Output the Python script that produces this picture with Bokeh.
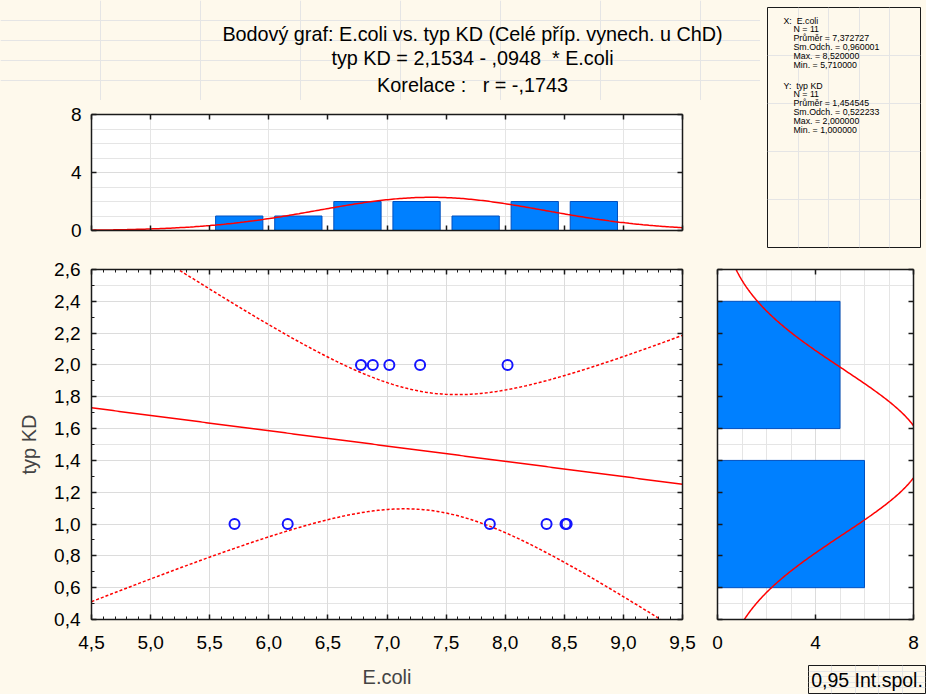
import numpy as np
from bokeh.plotting import figure
from bokeh.models import (FixedTicker, LinearAxis, Label, Range1d, Grid, Plot,
                          CustomJSTickFormatter)
from bokeh.layouts import column, row
from bokeh.embed import file_html
from bokeh.resources import INLINE

NB = "\u00a0"

# ---------------- data ----------------
ECOLI = [5.71, 6.16, 6.78, 6.88, 7.02, 7.28, 7.87, 8.02, 8.35, 8.51, 8.52]
TYP_KD = [1, 1, 2, 2, 2, 2, 1, 2, 1, 1, 1]

X_BIN_CENTERS = [5.75, 6.25, 6.75, 7.25, 7.75, 8.25, 8.75]
X_BIN_COUNTS = [1, 1, 2, 2, 1, 2, 2]
X_BIN_WIDTH = 0.5
Y_BIN_CENTERS = [1.0, 2.0]
Y_BIN_COUNTS = [6, 5]
Y_BIN_WIDTH = 1.0

X_TICKS = [4.5, 5.0, 5.5, 6.0, 6.5, 7.0, 7.5, 8.0, 8.5, 9.0, 9.5]
Y_TICKS = [0.4, 0.6, 0.8, 1.0, 1.2, 1.4, 1.6, 1.8, 2.0, 2.2, 2.4, 2.6]
COUNT_TICKS = [0, 4, 8]

TITLE_LINES = [
    "Bodový graf: E.coli vs. typ KD (Celé příp. vynech. u ChD)",
    "typ KD = 2,1534 - ,0948" + NB + " * E.coli",
    "Korelace :" + NB + NB + " r = -,1743",
]
STATS_X = ["X:" + NB + " E.coli", "N = 11", "Průměr = 7,372727",
           "Sm.Odch. = 0,960001", "Max. = 8,520000", "Min. = 5,710000"]
STATS_Y = ["Y:" + NB + " typ KD", "N = 11", "Průměr = 1,454545",
           "Sm.Odch. = 0,522233", "Max. = 2,000000", "Min. = 1,000000"]
CI_LABEL = "0,95 Int.spol."
X_NAME = "E.coli"
Y_NAME = "typ KD"
T_975_DF9 = 2.2622

# ---------------- styles ----------------
BG = "#FEF9EC"
INK = "#1a1a1a"
FONT = "Liberation Sans"
BAR = "#0080FF"
BAR_EDGE = "#0050C0"
RED = "#FF0000"
GRID = "#DCDCDC"
FA = {"frame_align": False} if "frame_align" in Plot.properties() else {}
BGSTYLE = {"background-color": BG}

x = np.array(ECOLI, float)
y = np.array(TYP_KD, float)
n = len(x)
mx, my = x.mean(), y.mean()
sdx, sdy = x.std(ddof=1), y.std(ddof=1)
sxx = ((x - mx) ** 2).sum()
b = ((x - mx) * (y - my)).sum() / sxx
a = my - b * mx
s = np.sqrt(((y - (a + b * x)) ** 2).sum() / (n - 2))

xs = np.linspace(4.5, 9.5, 300)
yhat = a + b * xs
half = T_975_DF9 * s * np.sqrt(1.0 / n + (xs - mx) ** 2 / sxx)


def npdf(v, m, sd):
    return np.exp(-0.5 * ((v - m) / sd) ** 2) / (sd * np.sqrt(2 * np.pi))


def make_axis(ticker, labels, formatter=None, standoff=12):
    ax = LinearAxis(ticker=ticker)
    ax.axis_line_color = INK
    ax.axis_line_width = 1.5
    ax.major_tick_in = 5
    ax.major_tick_out = 0
    ax.minor_tick_in = 3
    ax.minor_tick_out = 0
    ax.major_tick_line_color = INK
    ax.minor_tick_line_color = INK
    ax.major_tick_line_width = 1.5
    ax.major_label_text_font = FONT
    if labels:
        ax.major_label_text_color = "black"
        ax.major_label_text_font_size = "19px"
        ax.major_label_standoff = standoff
        if formatter is not None:
            ax.formatter = formatter
    else:
        ax.formatter = CustomJSTickFormatter(code="return '';")
        ax.major_label_text_color = None
        ax.major_label_text_font_size = "1px"
        ax.major_label_standoff = 0
    return ax


def base_fig(**kw):
    return figure(output_backend="svg", toolbar_location=None,
                  x_axis_location=None, y_axis_location=None,
                  border_fill_color=BG, background_fill_color="white",
                  outline_line_color=None, styles=BGSTYLE, **FA, **kw)


comma = CustomJSTickFormatter(code="return tick.toFixed(1).replace('.', ',');")
x_range = Range1d(4.5, 9.5)
y_range = Range1d(0.4, 2.6)

# ---------------- title block ----------------
tf = base_fig(width=760, height=100, x_range=Range1d(0, 760), y_range=Range1d(0, 100),
              min_border_left=0, min_border_right=0, min_border_top=0,
              min_border_bottom=0)
tf.background_fill_color = BG
for txt, yc in zip(TITLE_LINES, [33, 57, 84]):
    tf.add_layout(Label(x=472, y=100 - yc, text=txt, text_align="center",
                        text_baseline="middle", text_font=FONT,
                        text_font_size="19.8px", text_color="black"))

# ---------------- top histogram ----------------
th = base_fig(width=760, height=152, x_range=x_range, y_range=Range1d(0, 8),
              min_border_left=91, min_border_right=78,
              min_border_top=14, min_border_bottom=22)
tx = FixedTicker(ticks=X_TICKS)
ty = FixedTicker(ticks=COUNT_TICKS)
th.add_layout(Grid(dimension=1, ticker=ty, grid_line_color=GRID))
th.add_layout(make_axis(tx, False), "below")
th.add_layout(make_axis(tx, False), "above")
th.add_layout(make_axis(ty, True, standoff=10), "left")
th.add_layout(make_axis(ty, False), "right")
th.vbar(x=X_BIN_CENTERS, top=X_BIN_COUNTS, bottom=0, width=0.8 * X_BIN_WIDTH,
        fill_color=BAR, line_color=BAR_EDGE, line_width=1)
th.line(xs, n * X_BIN_WIDTH * npdf(xs, mx, sdx), line_color=RED, line_width=1.5)

# ---------------- statistics box ----------------
st = base_fig(width=166, height=252, x_range=Range1d(0, 1), y_range=Range1d(0, 1),
              min_border_left=7, min_border_right=6, min_border_top=7,
              min_border_bottom=5)
st.background_fill_color = BG
st.outline_line_color = INK
st.outline_line_width = 1
fw, fh = 153.0, 240.0
for block, top in ((STATS_X, 13.0), (STATS_Y, 78.0)):
    for i, txt in enumerate(block):
        xpx = 16.0 if i == 0 else 26.0
        ypx = top + 8.9 * i
        st.add_layout(Label(x=xpx / fw, y=1 - ypx / fh, text=txt,
                            text_align="left", text_baseline="middle",
                            text_font=FONT, text_font_size="8.8px",
                            text_color="black"))

# ---------------- scatter ----------------
sc = base_fig(width=700, height=442, x_range=x_range, y_range=y_range,
              min_border_left=91, min_border_right=18,
              min_border_top=17, min_border_bottom=75)
minor_x = [round(4.5 + 0.1 * i, 2) for i in range(51)]
minor_y = [round(0.4 + 0.1 * i, 2) for i in range(23)]
sx_t = FixedTicker(ticks=X_TICKS, minor_ticks=minor_x)
sy_t = FixedTicker(ticks=Y_TICKS, minor_ticks=minor_y)
sc.add_layout(Grid(dimension=0, ticker=sx_t, grid_line_color=GRID))
sc.add_layout(Grid(dimension=1, ticker=sy_t, grid_line_color=GRID))
xb = make_axis(sx_t, True, comma, standoff=16)
xb.axis_label = X_NAME
xb.axis_label_text_font = FONT
xb.axis_label_text_font_size = "20px"
xb.axis_label_text_font_style = "normal"
xb.axis_label_standoff = 14
yl = make_axis(sy_t, True, comma, standoff=11)
yl.axis_label = Y_NAME
yl.axis_label_text_font = FONT
yl.axis_label_text_font_size = "20px"
yl.axis_label_text_font_style = "normal"
yl.axis_label_standoff = 11
sc.add_layout(xb, "below")
sc.add_layout(make_axis(sx_t, False), "above")
sc.add_layout(yl, "left")
sc.add_layout(make_axis(sy_t, False), "right")

sc.line(xs, yhat, line_color=RED, line_width=1.5)
sc.line(xs, yhat + half, line_color=RED, line_width=1.5, line_dash="3 2")
sc.line(xs, yhat - half, line_color=RED, line_width=1.5, line_dash="3 2")
sc.scatter(ECOLI, TYP_KD, marker="circle", size=10, fill_color=None,
           line_color="#1414FF", line_width=2)

# ---------------- right histogram ----------------
rf = base_fig(width=226, height=408, x_range=Range1d(0, 8), y_range=y_range,
              min_border_left=17, min_border_right=13,
              min_border_top=17, min_border_bottom=41)
rx_t = FixedTicker(ticks=COUNT_TICKS)
ry_t = FixedTicker(ticks=Y_TICKS)
rf.add_layout(Grid(dimension=0, ticker=rx_t, grid_line_color=GRID))
rf.add_layout(make_axis(rx_t, True, standoff=16), "below")
rf.add_layout(make_axis(rx_t, False), "above")
rf.add_layout(make_axis(ry_t, False), "left")
rf.add_layout(make_axis(ry_t, False), "right")
rf.hbar(y=Y_BIN_CENTERS, right=Y_BIN_COUNTS, left=0, height=0.8 * Y_BIN_WIDTH,
        fill_color=BAR, line_color=BAR_EDGE, line_width=1)
ys = np.linspace(0.4, 2.6, 300)
rf.line(n * Y_BIN_WIDTH * npdf(ys, my, sdy), ys, line_color=RED, line_width=1.5)

# ---------------- CI legend box ----------------
cf = base_fig(width=226, height=34, x_range=Range1d(0, 1), y_range=Range1d(0, 1),
              min_border_left=108, min_border_right=1, min_border_top=5,
              min_border_bottom=1)
cf.background_fill_color = BG
cf.outline_line_color = INK
cf.outline_line_width = 1
cf.add_layout(Label(x=0.5, y=0.5, text=CI_LABEL, text_align="center",
                    text_baseline="middle", text_font=FONT,
                    text_font_size="19.5px", text_color="black"))

left_top = column(tf, th, styles=BGSTYLE)
top_row = row(left_top, st, styles=BGSTYLE)
right_col = column(rf, cf, styles=BGSTYLE)
bottom_row = row(sc, right_col, styles=BGSTYLE)
layout = column(top_row, bottom_row, styles=BGSTYLE)

html = file_html(layout, INLINE, title="E.coli vs typ KD")
html = html.replace("<body>", '<body style="background-color:%s;">' % BG, 1)
open("out.html", "w").write(html)
